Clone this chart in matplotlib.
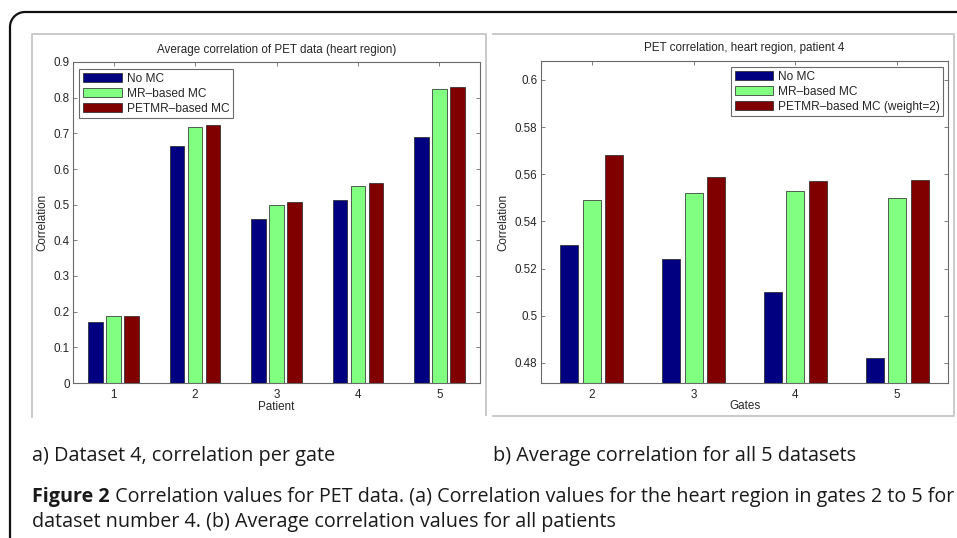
import matplotlib
matplotlib.use("Agg")
import matplotlib.pyplot as plt
import numpy as np
from matplotlib.lines import Line2D
from matplotlib.patches import Patch

# ---------------- data ----------------
patients = [1, 2, 3, 4, 5]
left_nomc = [0.170, 0.664, 0.459, 0.513, 0.690]
left_mr = [0.187, 0.719, 0.500, 0.551, 0.823]
left_petmr = [0.187, 0.722, 0.507, 0.561, 0.829]

gates = [2, 3, 4, 5]
right_nomc = [0.530, 0.524, 0.510, 0.482]
right_mr = [0.549, 0.552, 0.553, 0.550]
right_petmr = [0.568, 0.559, 0.557, 0.5575]

left_labels = ["No MC", "MR\u2013based MC", "PETMR\u2013based MC"]
right_labels = ["No MC", "MR\u2013based MC", "PETMR\u2013based MC (weight=2)"]
left_title = "Average correlation of PET data (heart region)"
right_title = "PET correlation, heart region, patient 4"
left_yticks = [0, 0.1, 0.2, 0.3, 0.4, 0.5, 0.6, 0.7, 0.8, 0.9]
right_yticks = [0.48, 0.5, 0.52, 0.54, 0.56, 0.58, 0.6]

cap_a = "a) Dataset 4, correlation per gate"
cap_b = "b) Average correlation for all 5 datasets"
fig_bold = "Figure 2"
fig_line1 = " Correlation values for PET data. (a) Correlation values for the heart region in gates 2 to 5 for"
fig_line2 = "dataset number 4. (b) Average correlation values for all patients"

colors = ["#000080", "#80FF80", "#800000"]

W, H = 957, 538
fig = plt.figure(figsize=(W / 100, H / 100), dpi=100)
fig.patch.set_facecolor("white")

TXT = "#262626"
FS = 8.4


def px_rect(x0, y0, x1, y1):
    return [x0 / W, 1 - y1 / H, (x1 - x0) / W, (y1 - y0) / H]


def style_axes(ax):
    for s in ax.spines.values():
        s.set_color("#6a6a6a")
        s.set_linewidth(0.8)
    ax.tick_params(direction="in", length=3, width=0.6, color="#6a6a6a",
                   top=True, right=True, labelsize=FS, labelcolor=TXT)
    ax.tick_params(axis="y", pad=2.5)
    ax.tick_params(axis="x", pad=4)
    for lab in ax.get_xticklabels() + ax.get_yticklabels():
        lab.set_family("Liberation Sans")


def grouped(ax, x, series, width, offset):
    x = np.asarray(x, dtype=float)
    for i, (vals, c) in enumerate(zip(series, colors)):
        ax.bar(x + (i - 1) * offset, vals, width=width, color=c,
               edgecolor="#202020", linewidth=0.5, zorder=2)


handles = [Patch(facecolor=c, edgecolor="#202020", linewidth=0.5) for c in colors]

# -------- left panel --------
axl = fig.add_axes(px_rect(73, 62, 480, 383))
grouped(axl, patients, [left_nomc, left_mr, left_petmr], 0.18, 0.222)
axl.set_xlim(0.5, 5.5)
axl.set_ylim(0, 0.9)
axl.set_xticks(patients)
axl.set_yticks(left_yticks)
axl.set_yticklabels([("%g" % v) for v in left_yticks])
style_axes(axl)
axl.set_xlabel("Patient", fontsize=FS, color=TXT, family="Liberation Sans", va="center")
axl.xaxis.set_label_coords(0.5, -0.075)
axl.set_ylabel("Correlation", fontsize=FS, color=TXT, family="Liberation Sans", va="center")
axl.yaxis.set_label_coords(-0.076, 0.5)
axl.text(0.5, 1 + 12 / 321, left_title, transform=axl.transAxes, ha="center", va="center",
         fontsize=FS, color=TXT, family="Liberation Sans")
legl = axl.legend(handles, left_labels, loc="upper left", bbox_to_anchor=(6 / 407, 1 - 7 / 321),
                  borderaxespad=0, fancybox=False, edgecolor="#6a6a6a", framealpha=1,
                  prop=dict(family="Liberation Sans", size=FS + 0.2), handlelength=3.3, handleheight=0.8,
                  labelspacing=0.25, handletextpad=0.4, borderpad=0.3)
legl.get_frame().set_linewidth(0.8)
for t in legl.get_texts():
    t.set_color(TXT)

# -------- right panel --------
axr = fig.add_axes(px_rect(541, 61, 948, 383))
grouped(axr, gates, [right_nomc, right_mr, right_petmr], 0.177, 0.222)
axr.set_xlim(1.5, 5.5)
axr.set_ylim(0.4715, 0.608)
axr.set_xticks(gates)
axr.set_yticks(right_yticks)
axr.set_yticklabels([("%g" % v) for v in right_yticks])
style_axes(axr)
axr.set_xlabel("Gates", fontsize=FS, color=TXT, family="Liberation Sans", va="center")
axr.xaxis.set_label_coords(0.5, -0.072)
axr.set_ylabel("Correlation", fontsize=FS, color=TXT, family="Liberation Sans", va="center")
axr.yaxis.set_label_coords(-0.093, 0.5)
axr.text(0.5, 1 + 13 / 322, right_title, transform=axr.transAxes, ha="center", va="center",
         fontsize=FS, color=TXT, family="Liberation Sans")
legr = axr.legend(handles, right_labels, loc="upper right", bbox_to_anchor=(1 - 5 / 407, 1 - 6 / 322),
                  borderaxespad=0, fancybox=False, edgecolor="#6a6a6a", framealpha=1,
                  prop=dict(family="Liberation Sans", size=FS + 0.2), handlelength=3.2, handleheight=0.8,
                  labelspacing=0.25, handletextpad=0.4, borderpad=0.3)
legr.get_frame().set_linewidth(0.8)
for t in legr.get_texts():
    t.set_color(TXT)


# -------- panel frames (light gray) --------
def fline(xs, ys, color="#c9c9c9", lw=1.4):
    fig.add_artist(Line2D([x / W for x in xs], [1 - y / H for y in ys], color=color,
                          linewidth=lw, transform=fig.transFigure))


fline([32, 32, 486, 486], [417, 34, 34, 415])
fline([493, 954, 954, 493], [34, 34, 416, 416])

# -------- black rounded border --------
r = 15
theta = np.linspace(np.pi, np.pi / 2, 20)
arc_x = 10 + r + r * np.cos(theta)
arc_y = 12 + r - r * np.sin(theta)
bx = np.concatenate([[10], arc_x, [957]])
by = np.concatenate([[540], arc_y, [12]])
fig.add_artist(Line2D(bx / W, 1 - by / H, color="#111111", linewidth=1.6,
                      transform=fig.transFigure, solid_joinstyle="round"))

# -------- captions --------
renderer = fig.canvas.get_renderer()


def width_px(t):
    return t.get_window_extent(renderer).width


cfont = "Open Sans"
ta = fig.text(32 / W, 1 - 456 / H, cap_a, fontsize=12, family=cfont, color="#1a1a1a",
              ha="left", va="center")
fs_cap = 12 * 301 / width_px(ta)
ta.set_fontsize(fs_cap)
tb = fig.text(493 / W, 1 - 456 / H, cap_b, fontsize=fs_cap, family=cfont, color="#1a1a1a",
              ha="left", va="center")

tf = fig.text(32 / W, 1 - 502 / H, fig_bold, fontsize=12, family=cfont, weight="bold",
              color="#1a1a1a", ha="left", va="baseline")
t1 = fig.text(32 / W, 1 - 502 / H, fig_line1, fontsize=12, family=cfont, color="#1a1a1a",
              ha="left", va="baseline")
total = width_px(tf) + width_px(t1)
fs_fig = 12 * 920 / total
tf.set_fontsize(fs_fig)
t1.set_fontsize(fs_fig)
t1.set_x((32 + width_px(tf)) / W)
t2 = fig.text(32 / W, 1 - 527 / H, fig_line2, fontsize=fs_fig, family=cfont, color="#1a1a1a",
              ha="left", va="baseline")

fig.savefig("out.png", dpi=100, facecolor="white")
